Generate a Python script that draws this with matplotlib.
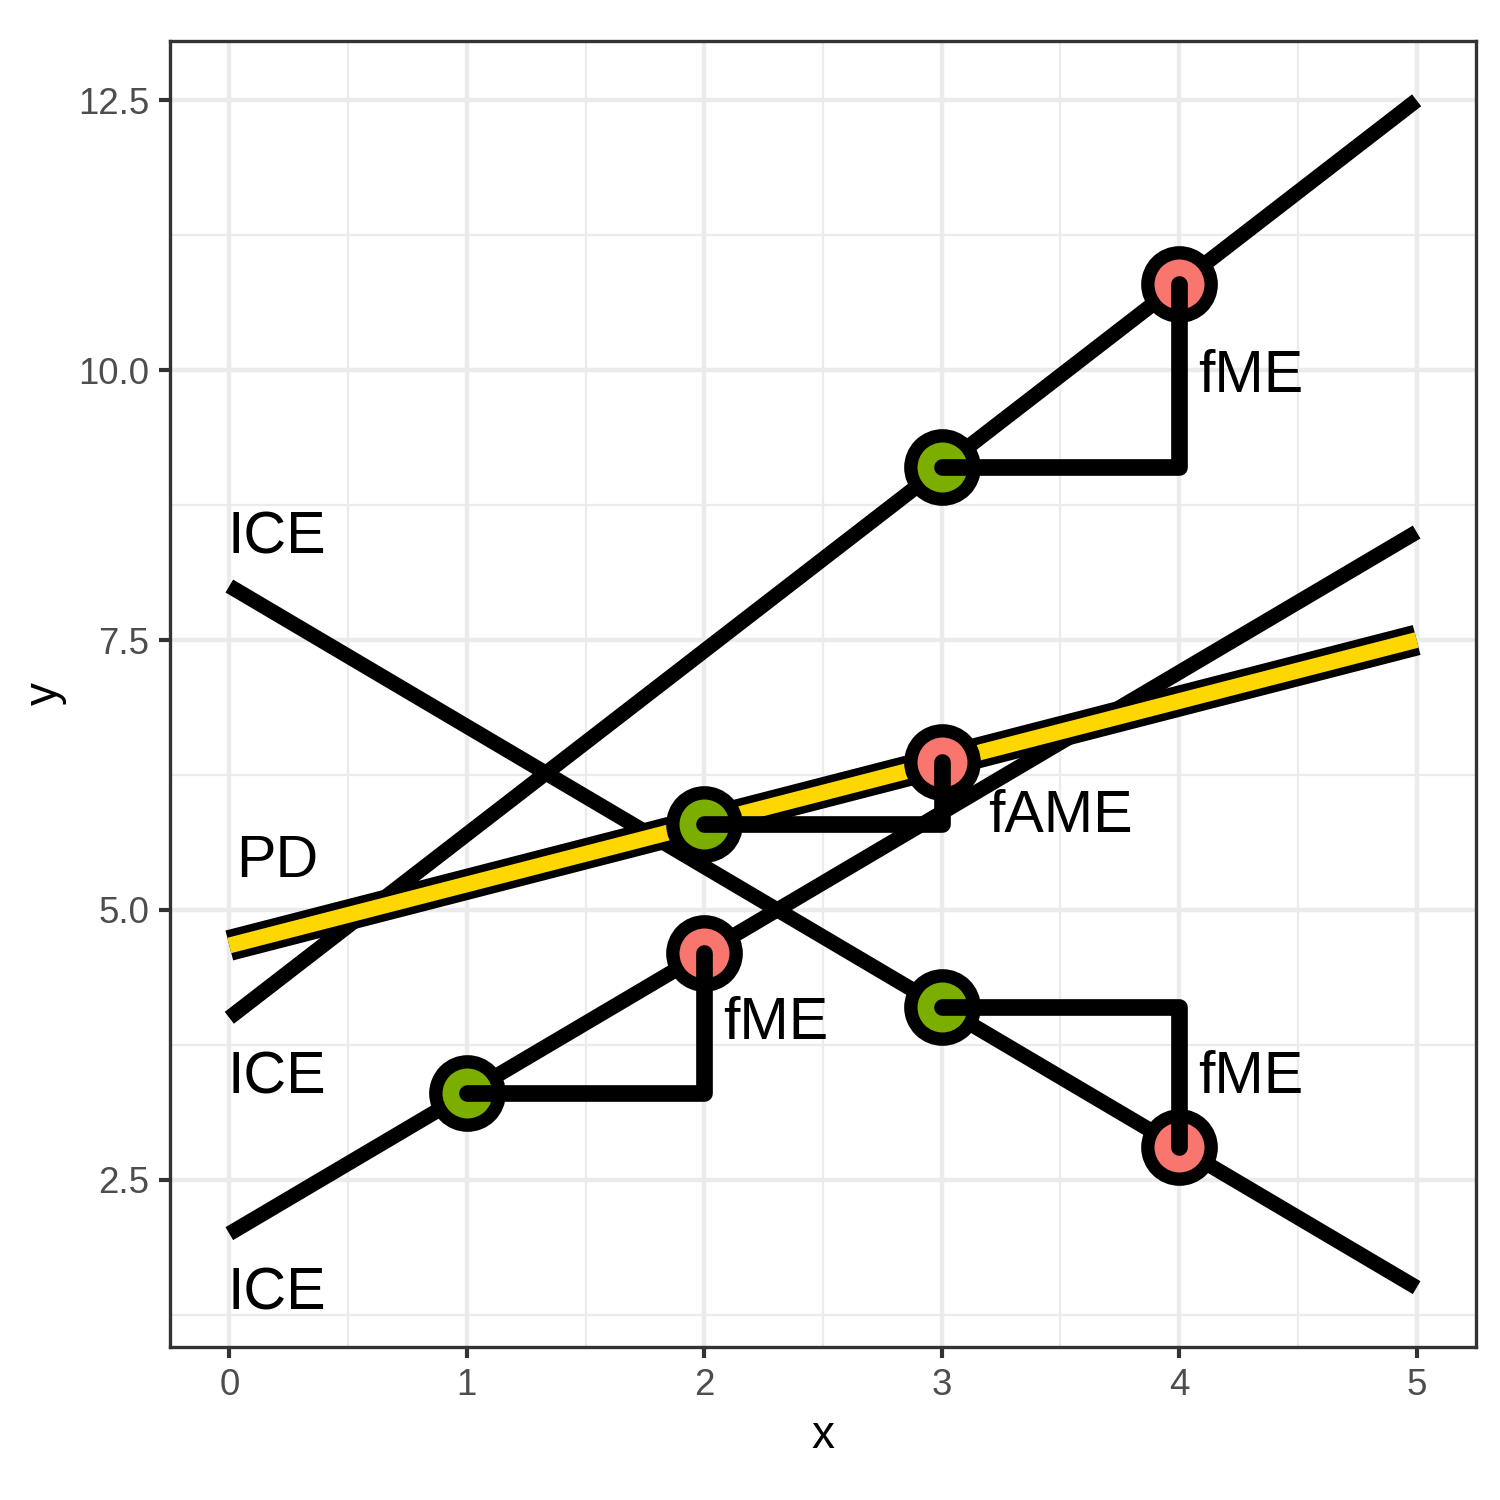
import matplotlib.pyplot as plt

plt.rcParams['font.family'] = ['Liberation Sans', 'DejaVu Sans']

# ICE lines, read as end points at x = 0 and x = 5
line_x = [0, 5]
ice_y0 = [4.0, 8.0, 2.0]
ice_y1 = [12.5, 1.5, 8.5]
# partial dependence (average of the ICE lines)
pd_y = [4.67, 7.5]

# start (green) and end (red) points of the finite differences
start_x = [3, 3, 1, 2]
start_y = [9.1, 4.1, 3.3, 5.8]
end_x = [4, 4, 2, 3]
end_y = [10.8, 2.8, 4.6, 6.37]

# text labels
lab_text = ["ICE", "ICE", "ICE", "PD", "fME", "fME", "fME", "fAME"]
lab_x = [0.2, 0.2, 0.2, 0.2, 4.3, 2.3, 4.3, 3.5]
lab_y = [8.5, 3.5, 1.5, 5.5, 10.0, 4.0, 3.5, 5.92]

green = "#7CAE00"
red = "#F8766D"
gold = "#FFD700"

fig = plt.figure(figsize=(5, 5), dpi=300)
ax = fig.add_axes([0.1133, 0.102, 0.8707, 0.8707])

for y0, y1 in zip(ice_y0, ice_y1):
    ax.plot(line_x, [y0, y1], color="black", lw=3.6, solid_capstyle="butt", zorder=3)

# PD line: black outline and yellow core
ax.plot(line_x, pd_y, color="black", lw=7.4, solid_capstyle="butt", zorder=4)
ax.plot(line_x, pd_y, color=gold, lw=3.8, solid_capstyle="butt", zorder=4.1)

ax.plot(start_x, start_y, "o", ms=15.2, mfc=green, mec="black", mew=3.2, ls="none", zorder=5)
ax.plot(end_x, end_y, "o", ms=15.2, mfc=red, mec="black", mew=3.2, ls="none", zorder=5)

# step segments: horizontal then vertical
for sx, sy, ex, ey in zip(start_x, start_y, end_x, end_y):
    ax.plot([sx, ex, ex], [sy, sy, ey], color="black", lw=4.0,
            solid_capstyle="round", solid_joinstyle="round", zorder=6)

for t, tx, ty in zip(lab_text, lab_x, lab_y):
    ax.text(tx, ty, t, fontsize=14.2, ha="center", va="center_baseline", zorder=7)

ax.set_xlim(-0.25, 5.25)
ax.set_ylim(0.95, 13.05)
ax.set_xticks([0, 1, 2, 3, 4, 5])
ax.set_yticks([2.5, 5.0, 7.5, 10.0, 12.5])
ax.set_yticklabels(["2.5", "5.0", "7.5", "10.0", "12.5"])
ax.set_xticks([0.5, 1.5, 2.5, 3.5, 4.5], minor=True)
ax.set_yticks([1.25, 3.75, 6.25, 8.75, 11.25], minor=True)
ax.grid(which="major", color="#EBEBEB", lw=1.07, zorder=0)
ax.grid(which="minor", color="#EBEBEB", lw=0.53, zorder=0)
ax.set_axisbelow(True)
ax.tick_params(which="major", length=2.75, width=1.0, color="#333333",
               labelsize=8.8, labelcolor="#4D4D4D", pad=2.2)
ax.tick_params(which="minor", length=0)
for sp in ax.spines.values():
    sp.set_color("#333333")
    sp.set_linewidth(0.8)

ax.set_xlabel("x", fontsize=11, labelpad=2.75)
ax.set_ylabel("y", fontsize=11, labelpad=2.75)

fig.savefig("out.png", dpi=300, facecolor="white")
